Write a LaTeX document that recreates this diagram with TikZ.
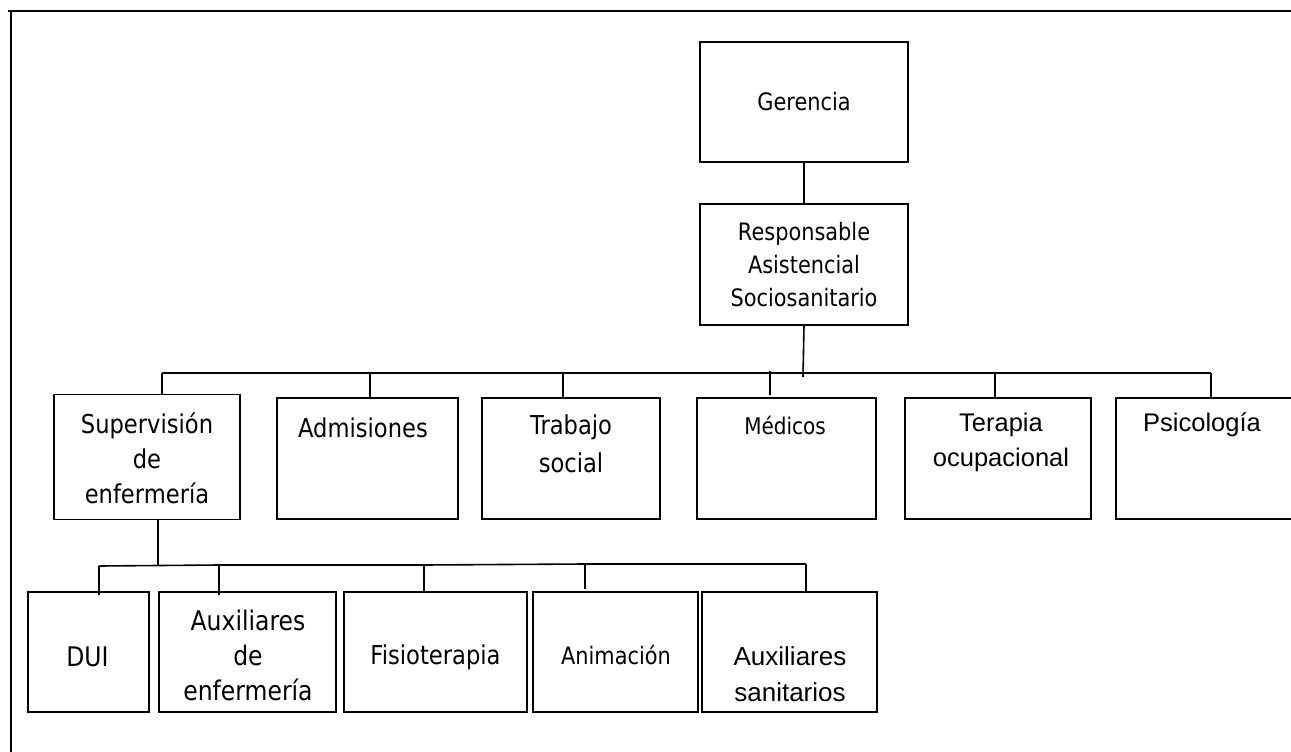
\documentclass[tikz,border=0pt]{standalone}
\usepackage{fontspec}
\newfontfamily\tah[FakeStretch=0.87]{DejaVu Sans}
\newfontfamily\ari{Liberation Sans}
\begin{document}
\begin{tikzpicture}[x=1pt,y=-1pt,
  box/.style={draw, line width=1.5pt, inner sep=0pt},
  wire/.style={line width=1.6pt},
  frameline/.style={line width=2.6pt},
  lbl/.style={align=center, inner sep=0pt},
  tsz/.style n args={2}{font={\tah\fontsize{#1}{#2}\selectfont}},
  asz/.style n args={2}{font={\ari\fontsize{#1}{#2}\selectfont}}]
\useasboundingbox (0,0) rectangle (1291,752);

% page frame (top and left rules)
\coordinate (fr-tl) at (11,11);
\coordinate (fr-tr) at (1291,11);
\coordinate (fr-bl) at (11,752);
\draw[frameline] (fr-tr) -- (8,11);
\draw[frameline] (fr-tl) -- (fr-bl);

% boxes
\node[box, minimum width=208, minimum height=120] (ger)  at (804,102)   {};
\node[box, minimum width=208, minimum height=121] (resp) at (804,264.5) {};

\node[box, minimum width=186, minimum height=125] (sup)  at (147,457)   {};
\node[box, minimum width=181, minimum height=121] (adm)  at (367.5,458.5) {};
\node[box, minimum width=178, minimum height=121] (trab) at (571,458.5) {};
\node[box, minimum width=179, minimum height=121] (med)  at (786.5,458.5) {};
\node[box, minimum width=186, minimum height=121] (ter)  at (998,458.5) {};
\node[box, minimum width=182, minimum height=121] (psi)  at (1207,458.5) {};

\node[box, minimum width=121, minimum height=120] (dui)  at (88.5,652)  {};
\node[box, minimum width=177, minimum height=120] (auxe) at (247.5,652) {};
\node[box, minimum width=183, minimum height=120] (fis)  at (435.5,652) {};
\node[box, minimum width=165, minimum height=120] (ani)  at (615.5,652) {};
\node[box, minimum width=175, minimum height=120] (auxs) at (789.5,652) {};

% labels
\node[lbl, tsz={24}{33}] (ger-t)  at (804,102) {Gerencia};
\node[lbl, tsz={24}{33}] (resp-t) at (804,265) {Responsable\\Asistencial\\Sociosanitario};
\node[lbl, tsz={26}{35}] (sup-t)  at (147,458) {Supervisión\\de\\enfermería};
\node[lbl, tsz={26}{35}] (adm-t)  at (363,428) {Admisiones};
\node[lbl, tsz={26}{38}] (trab-t) at (571,444) {Trabajo\\social};
\node[lbl, tsz={23}{30}] (med-t)  at (785,425) {Médicos};
\node[lbl, asz={25.5}{35}] (ter-t) at (1001,442.5) {Terapia\\ocupacional};
\node[lbl, asz={25.5}{35}] (psi-t) at (1202,425) {Psicología};

\node[lbl, tsz={27}{35}] (dui-t)  at (87.5,657) {DUI};
\node[lbl, tsz={27}{35}] (auxe-t) at (248,655) {Auxiliares\\de\\enfermería};
\node[lbl, tsz={26}{35}] (fis-t)  at (435.5,657) {Fisioterapia};
\node[lbl, tsz={24}{35}] (ani-t)  at (616,655) {Animación};
\node[lbl, asz={26}{36}] (auxs-t) at (790,674) {Auxiliares\\sanitarios};

% upper connectors
\draw[wire] (ger.south) -- (resp.north);
\coordinate (bus-dn) at (803,377);
\draw[wire] (resp.south) -- (bus-dn);

\coordinate (b1) at (162,373);
\coordinate (b2) at (370,373);
\coordinate (b3) at (563,373);
\coordinate (b4) at (770,371);
\coordinate (b5) at (995,373);
\coordinate (b6) at (1211,373);
\draw[wire] (b1) -- (b6);
\draw[wire] (b1) -- (b1 |- sup.north);
\draw[wire] (b2) -- (b2 |- adm.north);
\draw[wire] (b3) -- (b3 |- trab.north);
\coordinate (b4e) at (770,395);
\draw[wire] (b4) -- (b4e);
\draw[wire] (b5) -- (b5 |- ter.north);
\draw[wire] (b6) -- (b6 |- psi.north);

% lower connectors
\coordinate (sup-dn) at (158,520);
\coordinate (sb0) at (158,566);
\draw[wire] (sup-dn) -- (sb0);

\coordinate (s1) at (99,566);
\coordinate (s2) at (219,565);
\coordinate (s3) at (424,565);
\coordinate (s4) at (585,564);
\coordinate (s5) at (806,564);
\draw[wire] (s1) -- (s2) -- (s3) -- (s4) -- (s5);
\coordinate (s1e) at (99,595);
\coordinate (s2e) at (219,595);
\coordinate (s4e) at (585,589);
\draw[wire] (s1) -- (s1e);
\draw[wire] (s2) -- (s2e);
\draw[wire] (s3) -- (s3 |- fis.north);
\draw[wire] (s4) -- (s4e);
\draw[wire] (s5) -- (s5 |- auxs.north);
\end{tikzpicture}
\end{document}
